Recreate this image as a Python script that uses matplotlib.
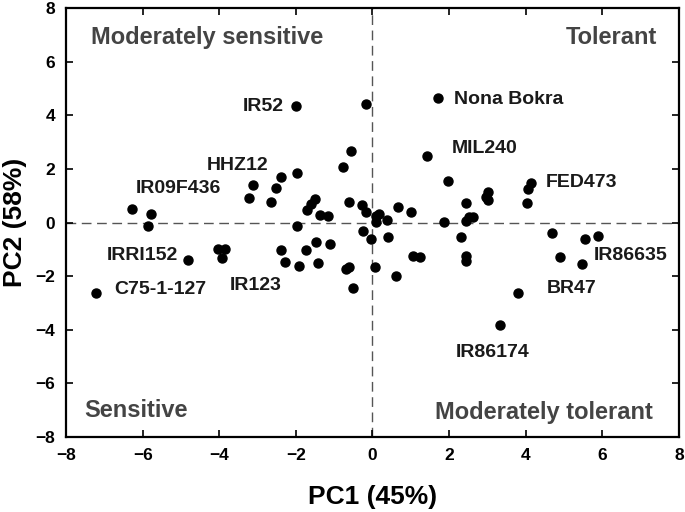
import matplotlib
matplotlib.use('Agg')
from matplotlib import pyplot as plt

plt.rcParams['font.family'] = ['Liberation Sans', 'DejaVu Sans']

# PC scores
pc1 = [-7.21, -6.27, -5.79, -5.85, -4.82, -4.02, -3.86, -3.92, -3.12, -2.51,
       -3.23, -2.66, -2.38, -1.98, -1.99, -0.16, -0.57, -0.77, -0.62, -0.28,
       -0.16, -1.51, -1.60, -1.71, -1.37, -1.15, -1.98, 0.10, 0.18, 0.10,
       0.37, 0.68, 1.01, -0.25, -0.05, 0.40, -1.47, -1.12, -1.73, -2.38,
       -2.27, -1.93, -1.41, -0.69, -0.60, -0.50, 0.08, 0.62, 1.05, 1.25,
       1.71, 1.43, 1.97, 2.45, 3.01, 2.97, 3.03, 4.13, 4.06, 4.03,
       1.88, 2.45, 2.53, 2.62, 2.32, 2.45, 2.45, 4.69, 4.91, 5.54,
       5.90, 5.46, 3.80, 3.32]
pc2 = [-2.64, 0.50, 0.32, -0.14, -1.38, -0.98, -0.98, -1.32, 1.41, 1.28,
       0.93, 0.78, 1.69, 1.84, 4.35, 4.43, 2.69, 2.06, 0.78, 0.66,
       0.38, 0.88, 0.70, 0.47, 0.30, 0.26, -0.14, 0.26, 0.32, 0.01,
       0.11, 0.60, 0.38, -0.32, -0.62, -0.55, -0.71, -0.80, -1.02, -1.01,
       -1.46, -1.63, -1.50, -1.75, -1.67, -2.45, -1.64, -1.98, -1.23, -1.27,
       4.64, 2.50, 1.54, 0.73, 1.16, 0.97, 0.86, 1.47, 1.26, 0.72,
       0.01, 0.07, 0.22, 0.22, -0.55, -1.23, -1.42, -0.38, -1.27, -0.61,
       -0.51, -1.54, -2.64, -3.81]

# genotype labels: name, x, y, alignment
namen = ['IR52', 'HHZ12', 'IR09F436', 'IRRI152', 'C75-1-127', 'IR123',
         'Nona Bokra', 'MIL240', 'FED473', 'IR86635', 'BR47', 'IR86174']
namen_x = [-2.32, -2.71, -3.95, -5.07, -6.75, -3.73,
           2.14, 2.08, 4.53, 5.78, 4.56, 2.17]
namen_y = [4.35, 2.13, 1.28, -1.23, -2.51, -2.35,
           4.59, 2.75, 1.50, -1.23, -2.47, -4.84]
namen_ha = ['right', 'right', 'right', 'right', 'left', 'left',
            'left', 'left', 'left', 'left', 'left', 'left']

quadranten = ['Moderately sensitive', 'Tolerant', 'Sensitive', 'Moderately tolerant']
quad_x = [-7.34, 7.44, -7.52, 7.31]
quad_y = [6.91, 6.91, -7.01, -7.08]
quad_ha = ['left', 'right', 'left', 'right']

fig = plt.figure(figsize=(6.85, 5.12), dpi=100)
ax = fig.add_axes([0.0964, 0.1465, 0.8946, 0.8375])

ax.axhline(0, color='#555555', lw=1, ls=(0, (7, 4)), zorder=1)
ax.axvline(0, color='#555555', lw=1, ls=(0, (7, 4)), zorder=1)
ax.plot(pc1, pc2, 'o', color='black', markersize=6.5, zorder=3)

for n, x, y, ha in zip(namen, namen_x, namen_y, namen_ha):
    ax.text(x, y, n, ha=ha, va='center', fontsize=14, fontweight='bold', color='#1a1a1a')

for q, x, y, ha in zip(quadranten, quad_x, quad_y, quad_ha):
    ax.text(x, y, q, ha=ha, va='center', fontsize=17, fontweight='bold', color='#444444')

ax.set_xlim(-8, 8)
ax.set_ylim(-8, 8)
ax.set_xticks(range(-8, 9, 2))
ax.set_yticks(range(-8, 9, 2))
ax.tick_params(direction='in', length=5, width=1.2, top=True, right=True,
               labelsize=12.5, pad=8)
for lab in ax.get_xticklabels() + ax.get_yticklabels():
    lab.set_fontweight('bold')
for s in ax.spines.values():
    s.set_linewidth(1.6)

ax.set_xlabel('PC1 (45%)', fontsize=19, fontweight='bold', labelpad=16)
ax.set_ylabel('PC2 (58%)', fontsize=19, fontweight='bold', labelpad=6)

fig.savefig('out.png', dpi=100)
